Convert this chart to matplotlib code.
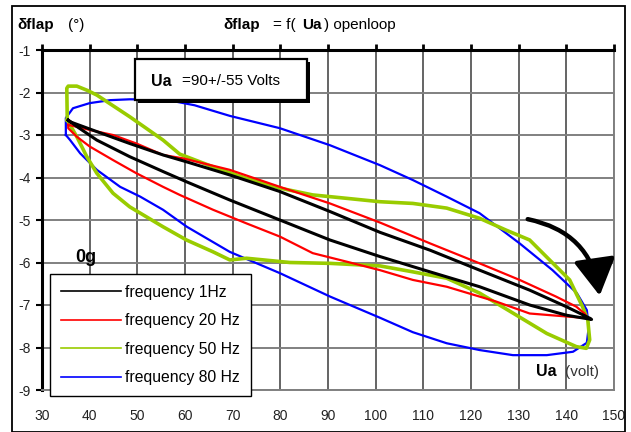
import numpy as np
import matplotlib
matplotlib.use("Agg")
import matplotlib.pyplot as plt
from matplotlib.lines import Line2D
from matplotlib.patches import Rectangle, FancyArrowPatch

plt.rcParams['font.family'] = ['Liberation Sans', 'DejaVu Sans']

# data (Ua in volt, delta flap in degrees)
x_1hz = [35.5, 35.9, 41.5, 48.4, 55.4, 60.3, 69.4, 79.9, 90.4, 100.9, 111.4, 121.8, 132.3, 140.0, 144.9, 145.3,
         140.0, 132.3, 121.8, 111.4, 100.9, 90.4, 79.9, 69.4, 60.3, 55.4, 48.4, 41.5, 37.3, 35.5]
y_1hz = [-2.65, -2.69, -2.92, -3.2, -3.47, -3.63, -3.94, -4.33, -4.8, -5.29, -5.71, -6.18, -6.65, -7.04, -7.31, -7.34,
         -7.24, -7.0, -6.57, -6.22, -5.86, -5.47, -5.0, -4.53, -4.1, -3.86, -3.51, -3.12, -2.8, -2.65]

x_20hz = [35.5, 40.0, 44.9, 49.8, 55.4, 59.6, 69.4, 79.9, 90.4, 100.9, 111.4, 121.8, 130.2, 137.8, 142.1, 143.8, 144.5,
          140.0, 132.3, 125.3, 114.9, 107.8, 100.9, 93.9, 86.8, 79.9, 72.9, 65.9, 58.9, 55.4, 49.8, 44.9, 40.0, 37.3,
          35.5, 35.5]
y_20hz = [-2.76, -2.88, -3.0, -3.2, -3.47, -3.55, -3.82, -4.22, -4.61, -5.06, -5.55, -6.02, -6.41, -6.8, -7.04, -7.2, -7.31,
          -7.27, -7.2, -6.92, -6.57, -6.41, -6.18, -5.98, -5.78, -5.39, -5.08, -4.76, -4.41, -4.22, -3.9, -3.59, -3.27, -3.04,
          -2.84, -2.76]

x_50hz = [35.3, 35.2, 35.5, 37.3, 39.5, 41.5, 48.4, 55.4, 58.9, 65.9, 72.9, 79.9, 86.8, 93.9, 100.9, 107.8, 114.9,
          121.8, 127.4, 132.3, 137.2, 140.7, 143.4, 144.5, 144.9, 144.2, 142.1, 135.9, 128.8, 121.8, 114.9, 107.8,
          100.9, 90.4, 82.0, 72.9, 69.4, 65.9, 60.3, 55.4, 48.4, 44.9, 41.5, 39.4, 37.3, 35.3]
y_50hz = [-2.65, -1.9, -1.85, -1.85, -1.95, -2.06, -2.57, -3.12, -3.45, -3.75, -4.02, -4.25, -4.41, -4.49, -4.57, -4.61,
          -4.72, -4.96, -5.24, -5.47, -6.02, -6.41, -7.04, -7.35, -7.82, -8.02, -7.98, -7.67, -7.19, -6.72, -6.37, -6.22,
          -6.08, -6.02, -6.0, -5.9, -5.94, -5.75, -5.47, -5.16, -4.69, -4.37, -3.9, -3.51, -3.04, -2.65]

x_80hz = [35.0, 35.0, 36.5, 40.0, 44.3, 48.4, 56.0, 62.0, 69.4, 79.9, 90.4, 100.9, 107.8, 114.9, 121.8, 130.2, 137.1,
          142.2, 144.3, 144.7, 144.3, 141.4, 135.9, 128.8, 121.8, 114.9, 107.8, 100.9, 90.4, 79.9, 69.4, 60.4, 55.4,
          50.6, 46.4, 41.5, 38.0, 35.9, 35.0]
y_80hz = [-3.0, -2.6, -2.37, -2.25, -2.18, -2.16, -2.17, -2.3, -2.55, -2.84, -3.24, -3.71, -4.06, -4.45, -4.84, -5.55, -6.18,
          -6.72, -7.12, -7.52, -7.89, -8.1, -8.18, -8.18, -8.06, -7.9, -7.64, -7.3, -6.8, -6.25, -5.75, -5.16, -4.76,
          -4.45, -4.22, -3.82, -3.43, -3.12, -3.0]

labels = ["frequency 1Hz", "frequency 20 Hz", "frequency 50 Hz", "frequency 80 Hz"]
colors = ["black", "#ff0000", "#99cc00", "#0000ff"]

x_ticks = list(range(30, 151, 10))
y_ticks = list(range(-9, 0))

W, H = 631, 432
fig = plt.figure(figsize=(W / 100, H / 100), dpi=100)
ax = fig.add_axes([42 / W, 1 - 390 / H, 572 / W, 340 / H])

# grid
for xv in x_ticks:
    ax.axvline(xv, color="#3a3a3a", lw=1.1, zorder=1)
for yv in y_ticks:
    ax.axhline(yv, color="#808080", lw=1.4, zorder=1)

ax.plot(x_80hz, y_80hz, color=colors[3], lw=1.6, zorder=3)
ax.plot(x_50hz, y_50hz, color=colors[2], lw=2.6, zorder=4)
ax.plot(x_20hz, y_20hz, color=colors[1], lw=1.6, zorder=5)
ax.plot(x_1hz, y_1hz, color=colors[0], lw=2.2, zorder=6)

ax.set_xlim(30, 150)
ax.set_ylim(-9, -1)
ax.set_xticks(x_ticks)
ax.set_yticks(y_ticks)
ax.tick_params(axis="x", bottom=False, top=True, direction="out", length=4, width=2,
               labelsize=10, colors="black", pad=10, labelcolor="#222222")
ax.tick_params(axis="y", left=True, direction="out", length=4, width=1.5,
               labelsize=10, labelcolor="#222222", pad=4)
ax.set_yticklabels(["-%d" % abs(v) for v in y_ticks])
ax.spines["top"].set_linewidth(2.2)
ax.spines["left"].set_linewidth(2.2)
ax.spines["right"].set_color("#808080")
ax.spines["bottom"].set_color("#808080")
ax.spines["right"].set_linewidth(1.4)
ax.spines["bottom"].set_linewidth(1.4)

# curved arrow
arr = FancyArrowPatch((131.9, -4.98), (147.0, -6.78), connectionstyle="arc3,rad=-0.35",
                      arrowstyle="-|>,head_length=1.4,head_width=0.8", lw=3.2, color="black",
                      mutation_scale=16, shrinkA=0, shrinkB=0, zorder=8)
ax.add_patch(arr)

# legend
handles = [Line2D([], [], color=c, lw=1.2) for c in colors]
leg = ax.legend(handles, labels, loc="upper left", bbox_to_anchor=(8 / 572, (390 - 274) / 340),
                frameon=True, fancybox=False, edgecolor="black", framealpha=1, fontsize=11.3,
                handlelength=3.8, handletextpad=0.3, labelspacing=0.85, borderpad=0.7, borderaxespad=0)
leg.get_frame().set_linewidth(1.0)
leg.set_zorder(10)

def px(x, y):
    return x / W, 1 - y / H

# figure border
fig.patches.append(Rectangle((12 / W, 0), 613 / W, 1 - 6 / H, transform=fig.transFigure,
                             fill=False, edgecolor="black", lw=1.3))

# header texts
fig.text(*px(17, 25), "δflap", fontsize=11, fontweight="bold", va="center", ha="left")
fig.text(*px(68, 25), "(°)", fontsize=11, va="center", ha="left")
fig.text(*px(223, 25), "δflap", fontsize=11, fontweight="bold", va="center", ha="left")
fig.text(*px(273, 25), "= f(", fontsize=11, va="center", ha="left")
fig.text(*px(302, 25), "Ua", fontsize=11, fontweight="bold", va="center", ha="left")
fig.text(*px(324, 25), ") openloop", fontsize=11, va="center", ha="left")

# Ua box with shadow
fig.patches.append(Rectangle((138 / W, 1 - 103 / H), 172 / W, 41 / H, transform=fig.transFigure,
                             facecolor="black", edgecolor="black", lw=0, zorder=11))
fig.patches.append(Rectangle((135 / W, 1 - 100 / H), 172 / W, 41 / H, transform=fig.transFigure,
                             facecolor="white", edgecolor="black", lw=1.6, zorder=12))
fig.text(*px(151, 81), "Ua", fontsize=11.5, fontweight="bold", va="center", ha="left", zorder=13)
fig.text(*px(182, 81), "=90+/-55 Volts", fontsize=11, va="center", ha="left", zorder=13)

fig.text(*px(75, 258), "0g", fontsize=13, fontweight="bold", va="center", ha="left")
fig.text(*px(536, 372), "Ua", fontsize=11.5, fontweight="bold", va="center", ha="left")
fig.text(*px(565, 372), "(volt)", fontsize=11, va="center", ha="left", color="#333333")

fig.savefig("out.png", dpi=100)
